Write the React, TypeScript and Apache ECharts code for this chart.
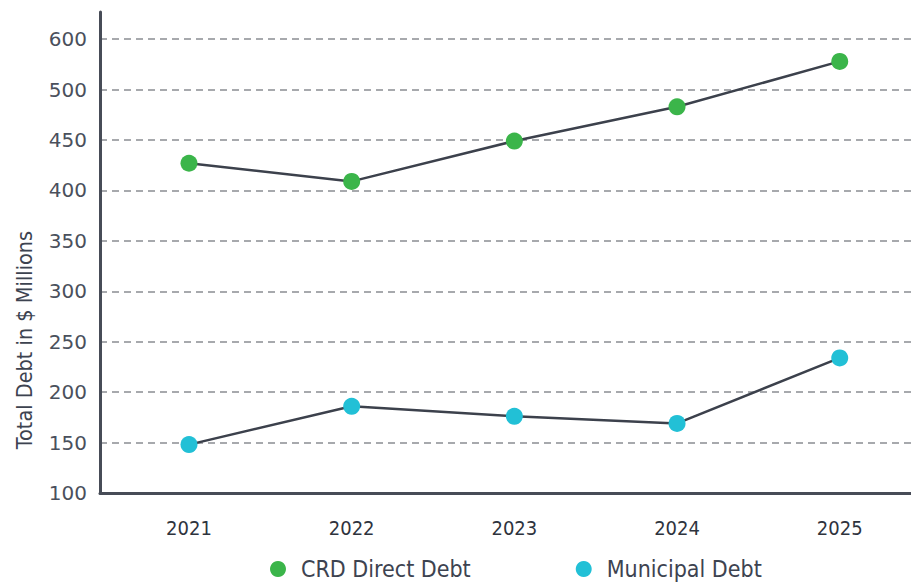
import React, { useEffect, useRef } from "react";
import * as echarts from "echarts";

const categories = ["2021", "2022", "2023", "2024", "2025"];
const crdDirectDebt = [427, 409, 449, 483, 528];
const municipalDebt = [148, 186, 176, 169, 234];
const yTickValues = [100, 150, 200, 250, 300, 350, 400, 450, 500, 550];
const yTickLabels = ["100", "150", "200", "250", "300", "350", "400", "450", "500", "600"];
const seriesNames = ["CRD Direct Debt", "Municipal Debt"];
const yAxisTitle = "Total Debt in $ Millions";

const NARROW = "'Liberation Sans Narrow', 'DejaVu Sans Condensed', 'Noto Sans', sans-serif";
const AXIS_COLOR = "#474c57";

export default function App() {
  const ref = useRef<HTMLDivElement>(null);
  useEffect(() => {
    if (!ref.current) return;
    const chart = echarts.init(ref.current, undefined, { renderer: "svg" });
    const toPairs = (vals: number[]) => categories.map((c, i) => [Number(c), vals[i]]);
    chart.setOption({
      animation: false,
      backgroundColor: "#ffffff",
      grid: { left: 100, right: 0, top: 12, bottom: 91 },
      graphic: [
        {
          type: "text",
          x: 24,
          y: 340,
          rotation: Math.PI / 2,
          style: {
            text: yAxisTitle,
            fontFamily: NARROW,
            fontSize: 21.5,
            fill: "#3d4350",
            textAlign: "center",
            textVerticalAlign: "middle",
          },
        },
      ],
      legend: {
        left: 270,
        top: 554,
        padding: 0,
        icon: "circle",
        itemWidth: 16,
        itemHeight: 16,
        itemGap: 105,
        textStyle: { fontFamily: NARROW, fontSize: 23, color: "#3d4350", lineHeight: 30, padding: [0, 0, 0, 10] },
        data: [
          { name: seriesNames[0], itemStyle: { color: "#3bb54a" } },
          { name: seriesNames[1], itemStyle: { color: "#22c0d6" } },
        ],
      },
      xAxis: {
        type: "value",
        min: 2020.453,
        max: 2025.438,
        minInterval: 1,
        maxInterval: 1,
        axisLine: { show: true, lineStyle: { color: AXIS_COLOR, width: 3 } },
        axisTick: { show: false },
        splitLine: { show: false },
        axisLabel: {
          showMinLabel: false,
          showMaxLabel: false,
          margin: 25,
          fontFamily: NARROW,
          fontSize: 20,
          color: "#2e333d",
          formatter: (v: number) => {
            const r = Math.round(v);
            return Math.abs(v - r) < 1e-6 && categories.includes(String(r)) ? String(r) : "";
          },
        },
      },
      yAxis: {
        type: "value",
        min: 100,
        max: 577,
        interval: 50,
        axisLine: { show: true, lineStyle: { color: AXIS_COLOR, width: 3 } },
        axisTick: { show: false },
        axisLabel: {
          showMaxLabel: false,
          margin: 13,
          fontFamily: "'DejaVu Sans', sans-serif",
          fontSize: 20,
          color: "#4a505c",
          formatter: (v: number) => {
            const i = yTickValues.indexOf(Math.round(v));
            return i >= 0 ? yTickLabels[i] : "";
          },
        },
        splitLine: {
          show: true,
          showMinLine: false,
          showMaxLine: false,
          lineStyle: { color: "#8a8d93", width: 1.5, type: [7, 5] },
        },
      },
      series: [
        {
          name: seriesNames[0],
          type: "line",
          data: toPairs(crdDirectDebt),
          symbol: "circle",
          symbolSize: 17,
          itemStyle: { color: "#3bb54a" },
          lineStyle: { color: "#3c414c", width: 2.5 },
          z: 3,
        },
        {
          name: seriesNames[1],
          type: "line",
          data: toPairs(municipalDebt),
          symbol: "circle",
          symbolSize: 17,
          itemStyle: { color: "#22c0d6" },
          lineStyle: { color: "#3c414c", width: 2.5 },
          z: 3,
        },
      ],
    });
    return () => chart.dispose();
  }, []);
  return (
    <div
      ref={ref}
      style={{ position: "fixed", left: 0, top: 0, width: 911, height: 584, background: "#fff" }}
    />
  );
}
